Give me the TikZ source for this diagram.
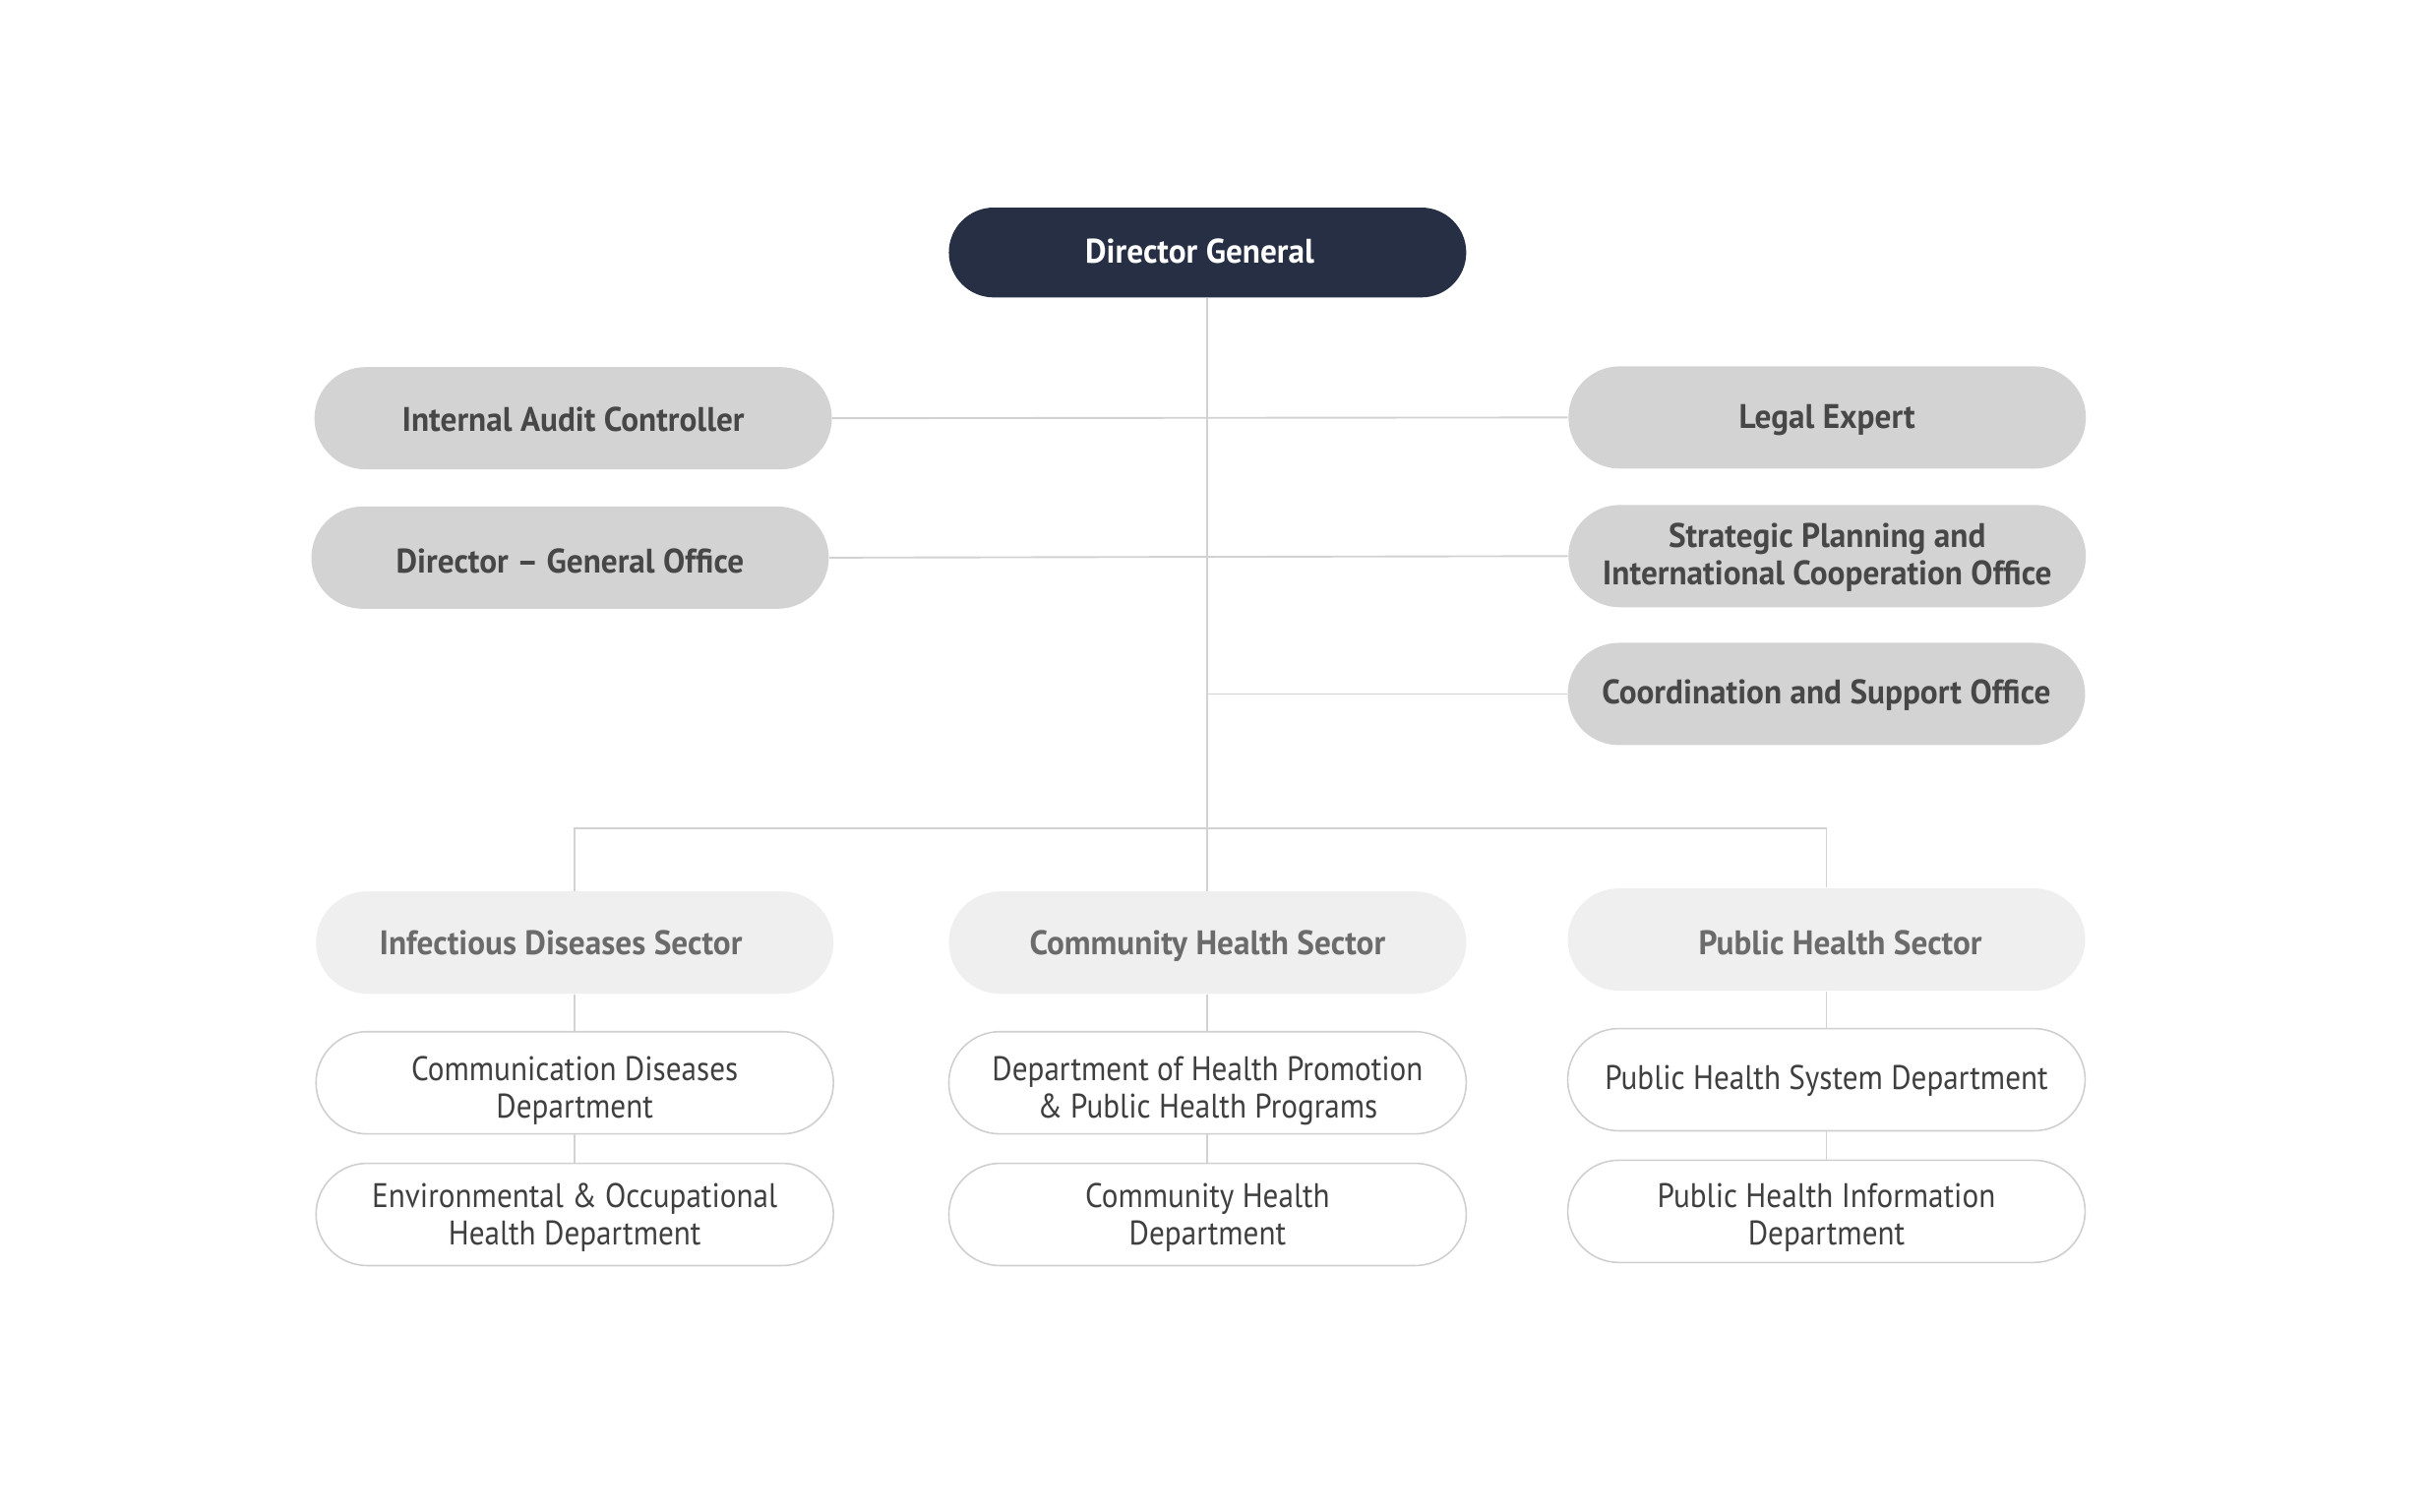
\documentclass[tikz,border=0pt]{standalone}
\usepackage{fontspec}
\setmainfont[FakeStretch=0.9, BoldFeatures={FakeStretch=0.96}]{PT Sans}
\definecolor{navy}{HTML}{272F45}
\definecolor{staffgray}{HTML}{D3D3D3}
\definecolor{stafftext}{HTML}{474747}
\definecolor{sectorgray}{HTML}{EFEFEF}
\definecolor{sectortext}{HTML}{6B6B6B}
\definecolor{deptline}{HTML}{CFCFCF}
\definecolor{depttext}{HTML}{3F3F3F}
\definecolor{linegray}{HTML}{D2D2D2}
\tikzset{
  lvl/.style={rectangle, rounded corners=16.5pt, minimum width=167pt, minimum height=33pt,
    inner sep=0pt},
  lbl/.style={inner sep=0pt, align=center, font={\fontsize{11}{12}\selectfont}},
  boldlbl/.style={lbl, font={\fontsize{11}{12}\selectfont\bfseries}},
  dgbox/.style={lvl, fill=navy, minimum height=29pt, rounded corners=14.5pt},
  dgbox-text/.style={boldlbl, text=white},
  staff/.style={lvl, fill=staffgray},
  staff-text/.style={boldlbl, text=stafftext},
  sector/.style={lvl, fill=sectorgray},
  sector-text/.style={boldlbl, text=sectortext},
  dept/.style={lvl, draw=deptline, line width=0.5pt, fill=white},
  dept-text/.style={lbl, text=depttext},
  conn/.style={draw=linegray, line width=0.6pt}
}
% #1 text shift, #2 style, #3 name, #4 position, #5 text
\newcommand\orgbox[5][0pt]{%
  \node[#2] (#3) at #4 {};
  \node[#2-text, yshift=#1] (#3-t) at (#3.center) {#5};
}
\begin{document}
\begin{tikzpicture}[x=0.5pt, y=-0.5pt]
\useasboundingbox[fill=white] (0,0) rectangle (1568,975.5);
% top
\orgbox[0.5pt]{dgbox}{dg}{(779.5,163)}{Director General\hspace*{5pt}}
% staff offices
\orgbox[-0.5pt]{staff}{iac}{(370,270)}{Internal Audit Controller}
\orgbox[-1pt]{staff}{dgo}{(368,360)}{Director -- General Office}
\orgbox[-1pt]{staff}{le}{(1179.5,269.5)}{Legal Expert}
\orgbox[-0.5pt]{staff}{sp}{(1179.5,359)}{Strategic Planning and\\International Cooperation Office}
\orgbox[-0.5pt]{staff}{cs}{(1179,448)}{Coordination and Support Office}
% sectors
\orgbox[0pt]{sector}{ids}{(371,608.5)}{Infectious Diseases Sector\hspace*{9pt}}
\orgbox[-1pt]{sector}{chs}{(779.5,608.5)}{Community Health Sector}
\orgbox[-1pt]{sector}{phs}{(1179,606.5)}{\hspace*{9pt}Public Health Sector}
% departments
\orgbox[-2.5pt]{dept}{cdd}{(371,699)}{Communication Diseases\\Department}
\orgbox[-1pt]{dept}{eod}{(371,784)}{Environmental \& Occupational\\Health Department}
\orgbox[-2.5pt]{dept}{hpd}{(779.5,699)}{Department of Health Promotion\\\& Public Health Programs}
\orgbox[-1pt]{dept}{chd}{(779.5,784)}{Community Health\\Department}
\orgbox[-0.5pt]{dept}{psd}{(1179,697)}{Public Health System Department}
\orgbox[-2pt]{dept}{pid}{(1179,782)}{Public Health Information\\Department}
% connectors
\coordinate (bus) at (779.5,535);
\draw[conn] (iac.east) -- (le.west);
\draw[conn] (dgo.east) -- (sp.west);
\draw[conn] (cs.west) -- (cs.west -| dg.south);
\draw[conn] (dg.south) -- (chs.north);
\draw[conn] (ids.north) |- (bus) -| (phs.north);
\draw[conn] (ids.south) -- (cdd.north);
\draw[conn] (cdd.south) -- (eod.north);
\draw[conn] (chs.south) -- (hpd.north);
\draw[conn] (hpd.south) -- (chd.north);
\draw[conn] (phs.south) -- (psd.north);
\draw[conn] (psd.south) -- (pid.north);
\end{tikzpicture}
\end{document}
